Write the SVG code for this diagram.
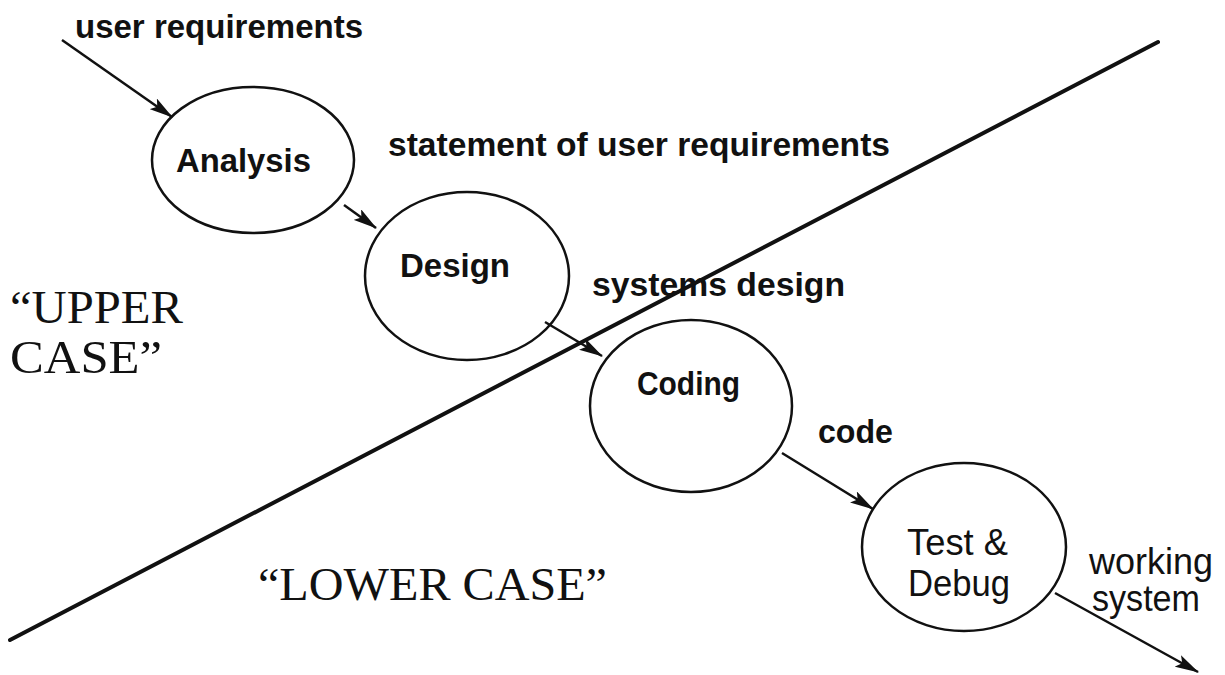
<svg xmlns="http://www.w3.org/2000/svg" width="1225" height="675" viewBox="0 0 1225 675">
  <defs>
    <marker id="arrow" viewBox="0 0 24 13" refX="23" refY="6.5" markerWidth="24" markerHeight="13" markerUnits="userSpaceOnUse" orient="auto">
      <path d="M0,0 L24,6.5 L0,13 L5,6.5 Z" fill="#111"/>
    </marker>
    <style>
      .bubble ellipse { fill: none; stroke: #111; stroke-width: 2.5; }
      .lbl { font-family: "Liberation Sans", Arial, sans-serif; font-weight: bold; font-size: 33px; fill: #111; }
      .reg { font-family: "Liberation Sans", Arial, sans-serif; font-size: 37px; fill: #111; }
      .case { font-family: "Liberation Serif", "Times New Roman", serif; font-size: 47px; fill: #111; }
      .flow { stroke: #111; stroke-width: 2.5; fill: none; marker-end: url(#arrow); }
    </style>
  </defs>
  <rect width="1225" height="675" fill="#fff"/>

  <!-- flow labels -->
  <g id="labels">
    <text class="lbl" x="75" y="38" textLength="288" lengthAdjust="spacingAndGlyphs">user requirements</text>
    <text class="lbl" x="388" y="156" textLength="502" lengthAdjust="spacingAndGlyphs">statement of user requirements</text>
    <text class="lbl" x="592" y="296" textLength="253" lengthAdjust="spacingAndGlyphs">systems design</text>
    <text class="lbl" x="818" y="443" textLength="75" lengthAdjust="spacingAndGlyphs">code</text>
    <text class="reg" x="1089" y="574" font-size="35" textLength="124" lengthAdjust="spacingAndGlyphs">working</text>
    <text class="reg" x="1092" y="611" font-size="35" textLength="108" lengthAdjust="spacingAndGlyphs">system</text>
  </g>

  <!-- region captions -->
  <g id="regions">
    <text class="case" x="10" y="323" textLength="173" lengthAdjust="spacingAndGlyphs">“UPPER</text>
    <text class="case" x="10" y="373" textLength="152" lengthAdjust="spacingAndGlyphs">CASE”</text>
    <text class="case" x="258" y="600" font-size="43" textLength="349" lengthAdjust="spacingAndGlyphs">“LOWER CASE”</text>
  </g>

  <!-- dividing line between upper and lower CASE -->
  <line id="divider" x1="10" y1="640" x2="1158" y2="42" stroke="#111" stroke-width="4" stroke-linecap="round"/>

  <!-- process bubbles -->
  <g id="analysis" class="bubble">
    <ellipse cx="253" cy="160" rx="101" ry="73"/>
    <text class="lbl" x="176" y="172" textLength="135" lengthAdjust="spacingAndGlyphs">Analysis</text>
  </g>
  <g id="design" class="bubble">
    <ellipse cx="467" cy="276" rx="102" ry="84"/>
    <text class="lbl" x="400" y="277" textLength="110" lengthAdjust="spacingAndGlyphs">Design</text>
  </g>
  <g id="coding" class="bubble">
    <ellipse cx="691" cy="406" rx="101" ry="86"/>
    <text class="lbl" x="637" y="395" textLength="103" lengthAdjust="spacingAndGlyphs">Coding</text>
  </g>
  <g id="test-debug" class="bubble">
    <ellipse cx="964" cy="547" rx="102" ry="84"/>
    <text class="reg" x="907" y="555" textLength="101" lengthAdjust="spacingAndGlyphs">Test &amp;</text>
    <text class="reg" x="908" y="596" textLength="102" lengthAdjust="spacingAndGlyphs">Debug</text>
  </g>

  <!-- data flows -->
  <g id="connectors">
    <line class="flow" x1="62" y1="40" x2="172" y2="117"/>
    <line class="flow" x1="344" y1="205" x2="376" y2="228"/>
    <line class="flow" x1="545" y1="322" x2="602" y2="356"/>
    <line class="flow" x1="782" y1="453" x2="873" y2="509"/>
    <line class="flow" x1="1055" y1="593" x2="1198" y2="672"/>
  </g>
</svg>
